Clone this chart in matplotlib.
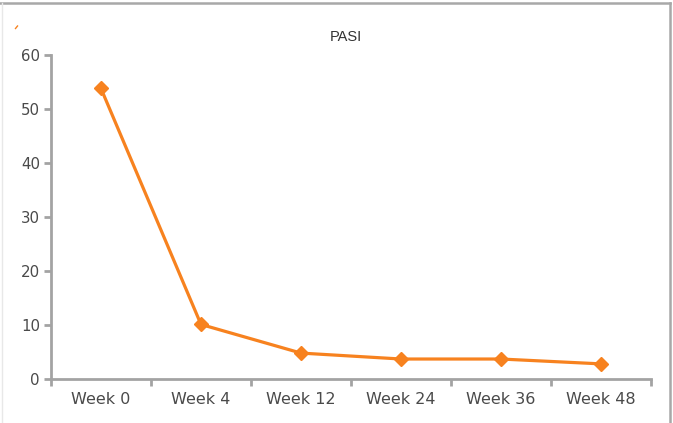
import matplotlib
matplotlib.use("Agg")
import matplotlib.pyplot as plt
from matplotlib.lines import Line2D

categories = ["Week 0", "Week 4", "Week 12", "Week 24", "Week 36", "Week 48"]
pasi = [53.8, 10.1, 4.8, 3.7, 3.7, 2.8]
yticks = [0, 10, 20, 30, 40, 50, 60]
title = "PASI"

plt.rcParams["font.family"] = ["DejaVu Sans"]

W, H = 673, 423
fig = plt.figure(figsize=(W / 100, H / 100), dpi=100)
fig.patch.set_facecolor("white")

left, right, bottom_px, top_px = 51, 651, 379, 55
ax = fig.add_axes([left / W, (H - bottom_px) / H, (right - left) / W, (bottom_px - top_px) / H])

orange = "#f7821f"
axis_gray = "#a3a3a3"
text_gray = "#4a4a4a"

x = list(range(len(categories)))
ax.plot(x, pasi, color=orange, lw=2.3, marker="D", markersize=7.5,
        markerfacecolor=orange, markeredgecolor=orange, zorder=3, clip_on=False)

ax.set_xlim(-0.5, len(categories) - 0.5)
ax.set_ylim(0, 60)
ax.set_yticks(yticks)
ax.set_yticklabels([str(v) for v in yticks])

ax.set_xticks([i - 0.5 for i in range(len(categories) + 1)])
ax.set_xticklabels([])
ax.set_xticks(x, minor=True)
ax.set_xticklabels(categories, minor=True)
ax.tick_params(axis="x", which="minor", length=0, pad=9, labelsize=11.5, labelcolor=text_gray)
ax.tick_params(axis="x", which="major", length=5, width=2, color=axis_gray, direction="out")
ax.tick_params(axis="y", length=5, width=2, color=axis_gray, direction="out", pad=3,
               labelsize=10.8, labelcolor=text_gray)

for s in ["top", "right"]:
    ax.spines[s].set_visible(False)
for s in ["left", "bottom"]:
    ax.spines[s].set_color(axis_gray)
    ax.spines[s].set_linewidth(2)

fig.text(346 / W, 1 - 37 / H, title, ha="center", va="center", fontsize=10.5,
         color="#333333", family=["Liberation Sans"])

# frame lines
fig.add_artist(Line2D([0, 670 / W], [1 - 3.5 / H, 1 - 3.5 / H], color="#a8a8a8", lw=1.8))
fig.add_artist(Line2D([669.5 / W, 669.5 / W], [0, 1 - 3.5 / H], color="#a8a8a8", lw=1.8))
fig.add_artist(Line2D([2 / W, 2 / W], [0, 1 - 3.5 / H], color="#e8e8e8", lw=1))
# tiny orange mark
fig.add_artist(Line2D([15.5 / W, 17.5 / W], [1 - 28.5 / H, 1 - 26 / H], color=orange, lw=1))

fig.savefig("out.png", dpi=100)
